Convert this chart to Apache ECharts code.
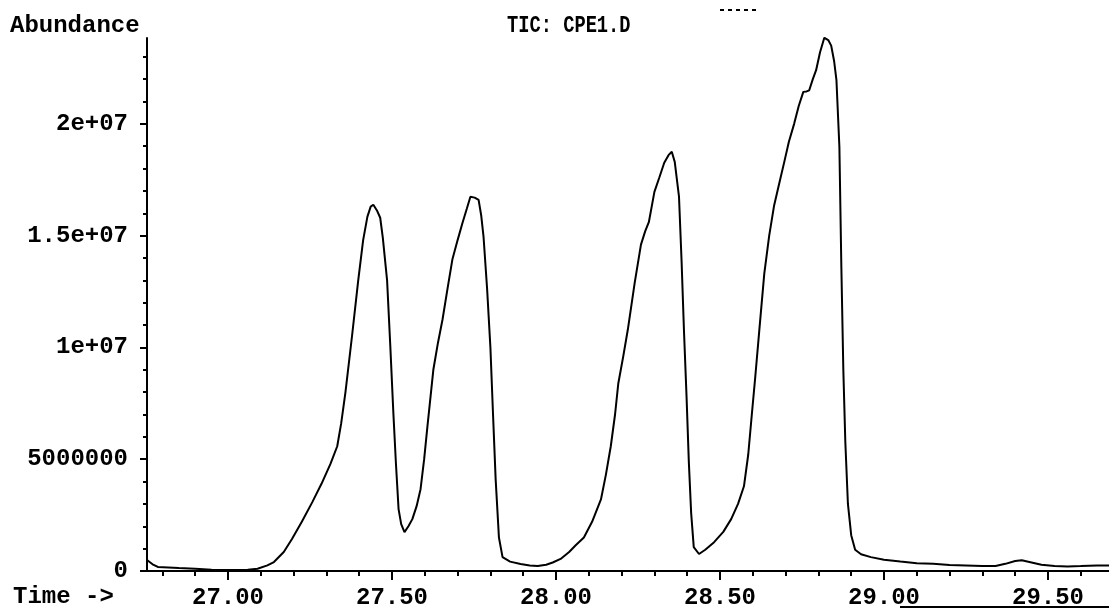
<!DOCTYPE html>
<html>
<head>
<meta charset="utf-8">
<script src="https://cdn.jsdelivr.net/npm/echarts@6/dist/echarts.min.js"></script>
<style>html,body{margin:0;padding:0;background:#fff;}#c{width:1109px;height:610px;}</style>
</head>
<body>
<div id="c"></div>
<script>
// Retention time (min)
var times = [26.752,26.77,26.786,26.85,26.90,26.95,27.00,27.06,27.09,27.12,27.14,27.17,27.195,27.225,27.257,27.285,27.312,27.333,27.345,27.358,27.378,27.397,27.412,27.425,27.435,27.443,27.455,27.464,27.472,27.485,27.495,27.504,27.512,27.52,27.528,27.538,27.55,27.562,27.575,27.587,27.598,27.608,27.626,27.64,27.654,27.67,27.684,27.70,27.715,27.728,27.739,27.752,27.764,27.772,27.779,27.79,27.80,27.808,27.816,27.826,27.837,27.86,27.892,27.92,27.944,27.97,27.99,28.014,28.04,28.06,28.085,28.11,28.137,28.152,28.167,28.18,28.19,28.205,28.219,28.24,28.259,28.272,28.283,28.30,28.315,28.33,28.343,28.353,28.362,28.375,28.383,28.39,28.398,28.405,28.412,28.42,28.436,28.455,28.482,28.51,28.534,28.555,28.573,28.586,28.597,28.607,28.62,28.635,28.65,28.665,28.68,28.696,28.71,28.726,28.74,28.754,28.764,28.772,28.783,28.793,28.805,28.818,28.83,28.839,28.848,28.855,28.864,28.87,28.876,28.882,28.89,28.90,28.912,28.93,28.96,29.00,29.05,29.10,29.15,29.20,29.25,29.30,29.34,29.37,29.40,29.42,29.45,29.48,29.52,29.56,29.60,29.65,29.69];
// Abundance (millions)
var abundanceM = [0.50,0.30,0.18,0.13,0.10,0.06,0.05,0.06,0.10,0.25,0.40,0.85,1.43,2.20,3.08,3.90,4.78,5.58,6.60,7.99,10.5,13.0,14.8,15.85,16.3,16.38,16.1,15.8,14.9,13.0,10.0,7.1,4.8,2.77,2.1,1.74,2.0,2.32,2.9,3.66,5.0,6.47,9.0,10.2,11.25,12.7,13.93,14.8,15.58,16.2,16.74,16.7,16.6,15.9,14.96,12.6,10.0,7.0,4.1,1.5,0.62,0.42,0.31,0.25,0.22,0.28,0.38,0.54,0.85,1.15,1.50,2.2,3.2,4.3,5.58,7.0,8.4,9.6,10.8,12.9,14.6,15.2,15.6,16.96,17.6,18.26,18.6,18.75,18.3,16.74,13.8,10.8,7.8,4.87,2.6,1.07,0.76,0.95,1.29,1.75,2.32,3.0,3.79,5.2,7.0,8.6,10.8,13.3,15.0,16.35,17.3,18.3,19.2,20.0,20.8,21.43,21.45,21.5,22.0,22.4,23.2,23.85,23.75,23.5,22.8,21.96,18.97,13.6,9.0,5.8,3.0,1.6,0.95,0.75,0.62,0.50,0.42,0.35,0.32,0.27,0.25,0.22,0.22,0.32,0.45,0.48,0.38,0.28,0.22,0.20,0.22,0.25,0.25];

var xMajorTicks = [27.0, 27.5, 28.0, 28.5, 29.0, 29.5];
var xMinorTicks = [26.8,26.9,27.1,27.2,27.3,27.4,27.6,27.7,27.8,27.9,28.1,28.2,28.3,28.4,28.6,28.7,28.8,28.9,29.1,29.2,29.3,29.4,29.6];
var yMajorTicks = [0, 5000000, 10000000, 15000000, 20000000];
var yTickLabels = ['0', '5000000', '1e+07', '1.5e+07', '2e+07'];
var yMinorTicks = [1e6,2e6,3e6,4e6,6e6,7e6,8e6,9e6,11e6,12e6,13e6,14e6,16e6,17e6,18e6,19e6,21e6,22e6,23e6];

var data = times.map(function (t, i) { return [t, abundanceM[i] * 1e6]; });

var FONT = 'bold 24px "Liberation Mono", "Courier New", monospace';
var xMin = 26.753, xMax = 29.686, yMax = 23840000;

var chart = echarts.init(document.getElementById('c'), null, {renderer: 'canvas'});
chart.setOption({
  animation: false,
  backgroundColor: '#fff',
  grid: {left: 147, right: 0, top: 38, bottom: 38, containLabel: false},
  xAxis: [{
    type: 'value', min: xMin, max: xMax, position: 'bottom',
    axisLine: {show: true, onZero: false, lineStyle: {color: '#000', width: 2}},
    axisTick: {show: true, length: 9, customValues: xMajorTicks, lineStyle: {color: '#000', width: 2}},
    axisLabel: {show: true, customValues: xMajorTicks, margin: 15, color: '#000',
      fontFamily: '"Liberation Mono", "Courier New", monospace', fontWeight: 'bold', fontSize: 24,
      formatter: function (v) { return v.toFixed(2); }},
    splitLine: {show: false}
  }, {
    type: 'value', min: xMin, max: xMax, position: 'bottom',
    axisLine: {show: false, onZero: false},
    axisTick: {show: true, length: 5, customValues: xMinorTicks, lineStyle: {color: '#000', width: 2}},
    axisLabel: {show: false},
    splitLine: {show: false}
  }],
  yAxis: [{
    type: 'value', min: 0, max: yMax, position: 'left',
    axisLine: {show: true, onZero: false, lineStyle: {color: '#000', width: 2}},
    axisTick: {show: true, length: 7, customValues: yMajorTicks, lineStyle: {color: '#000', width: 2}},
    axisLabel: {show: true, customValues: yMajorTicks, margin: 19, color: '#000',
      fontFamily: '"Liberation Mono", "Courier New", monospace', fontWeight: 'bold', fontSize: 24,
      formatter: function (v) { var i = yMajorTicks.indexOf(v); return i >= 0 ? yTickLabels[i] : ''; }},
    splitLine: {show: false}
  }, {
    type: 'value', min: 0, max: yMax, position: 'left',
    axisLine: {show: false, onZero: false},
    axisTick: {show: true, length: 4, customValues: yMinorTicks, lineStyle: {color: '#000', width: 2}},
    axisLabel: {show: false},
    splitLine: {show: false}
  }],
  series: [{
    type: 'line', xAxisIndex: 0, yAxisIndex: 0, data: data,
    showSymbol: false, smooth: false, clip: true,
    lineStyle: {color: '#000', width: 2}
  }],
  graphic: [
    {type: 'text', x: 10, y: 14, style: {text: 'Abundance', font: FONT, fill: '#000', verticalAlign: 'top'}},
    {type: 'text', x: 507, y: 14, scaleX: 0.78, style: {text: 'TIC: CPE1.D', font: FONT, fill: '#000', verticalAlign: 'top'}},
    {type: 'text', x: 13, y: 585, style: {text: 'Time ->', font: FONT, fill: '#000', verticalAlign: 'top'}},
    {type: 'line', shape: {x1: 900, y1: 607, x2: 1109, y2: 607}, style: {stroke: '#000', lineWidth: 2}},
    {type: 'line', shape: {x1: 720, y1: 10, x2: 758, y2: 10}, style: {stroke: '#000', lineWidth: 2, lineDash: [4, 4]}}
  ]
});
</script>
</body>
</html>
